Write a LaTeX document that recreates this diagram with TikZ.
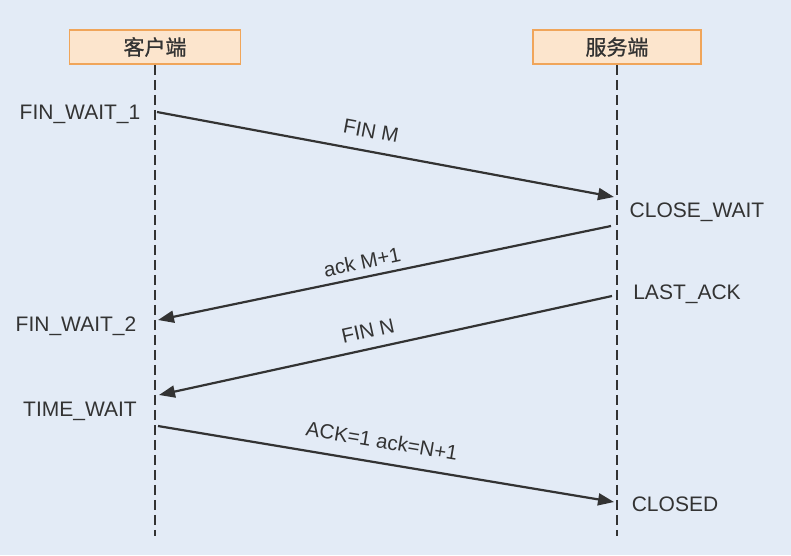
\documentclass[tikz,border=0pt]{standalone}
\usepackage{fontspec}
\setmainfont{Liberation Sans}
\newfontfamily\cjk{Noto Sans CJK SC}[FakeBold=0.9]
\usetikzlibrary{arrows.meta}
\definecolor{bg}{HTML}{E3EBF6}
\definecolor{boxfill}{HTML}{FCE5CD}
\definecolor{boxline}{HTML}{F0A55A}
\definecolor{ink}{HTML}{333333}
\begin{document}
\begin{tikzpicture}[x=1pt,y=-1pt,
  hdr/.style={draw=boxline,fill=boxfill,line width=1.6pt,minimum width=171pt,minimum height=34pt,inner sep=0pt,font=\cjk\fontsize{21}{24}\selectfont,text=ink},
  life/.style={draw=ink,line width=2.2pt,dash pattern=on 10pt off 5pt},
  msg/.style={draw=ink,line width=2.2pt,-{Triangle[length=16pt,width=12pt]}},
  state/.style={font=\fontsize{21}{24}\selectfont,text=ink,inner sep=0pt},
  lbl/.style={font=\fontsize{20.5}{24}\selectfont,text=ink,inner sep=0pt}]
\fill[bg] (0,0) rectangle (791,555);
\useasboundingbox (0,0) rectangle (791,555);
\node[hdr] (client) at (155,47) {客户端};
\node[hdr,minimum width=168pt] (server) at (617,47) {服务端};
\coordinate (cend) at (155,536);
\coordinate (send) at (617,536);
\draw[life] (client.south) -- (cend);
\draw[life] (server.south) -- (send);
% message endpoints
\coordinate (a1s) at (157,112);
\coordinate (a1e) at (614,197);
\coordinate (a2s) at (611,226);
\coordinate (a2e) at (158,320);
\coordinate (a3s) at (612,296);
\coordinate (a3e) at (159,395);
\coordinate (a4s) at (158,426);
\coordinate (a4e) at (614,502);
\draw[msg] (a1s) -- (a1e);
\draw[msg] (a2s) -- (a2e);
\draw[msg] (a3s) -- (a3e);
\draw[msg] (a4s) -- (a4e);
\node[lbl,rotate=-10.6] (l1) at (371,131) {FIN M};
\node[lbl,rotate=11.8] (l2) at (362,262) {ack M+1};
\node[lbl,rotate=12.4] (l3) at (368,331) {FIN N};
\node[lbl,rotate=-9.5] (l4) at (382,441) {ACK=1 ack=N+1};
% states
\node[state] (fw1) at (80,114) {FIN\_WAIT\_1};
\node[state] (cw) at (697,212) {CLOSE\_WAIT};
\node[state] (fw2) at (76,326) {FIN\_WAIT\_2};
\node[state] (la) at (687,294) {LAST\_ACK};
\node[state] (tw) at (80,411) {TIME\_WAIT};
\node[state] (cl) at (675,504) {CLOSED};
\end{tikzpicture}
\end{document}
